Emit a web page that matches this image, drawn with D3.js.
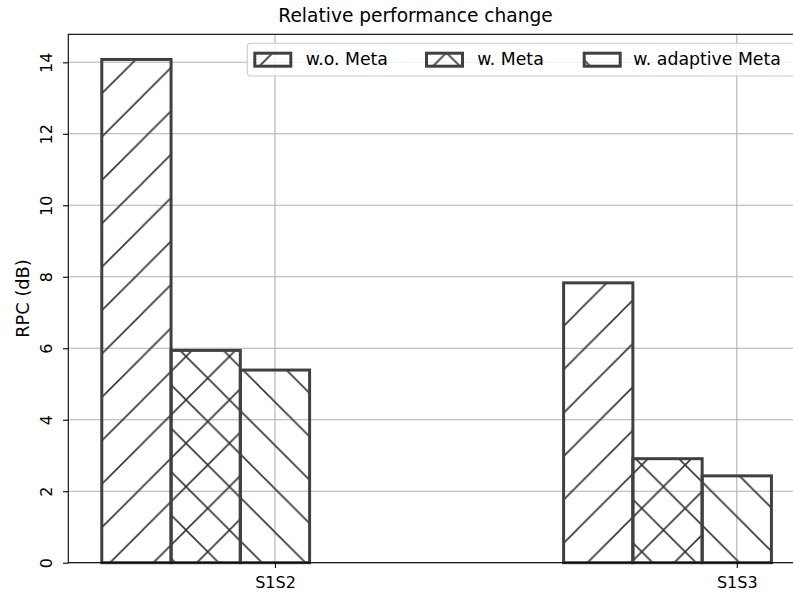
<!DOCTYPE html>
<html>
<head>
<meta charset="utf-8">
<script src="https://cdn.jsdelivr.net/npm/d3@7"></script>
<style>
  html, body { margin: 0; padding: 0; background: #fff; }
  svg { display: block; font-family: "DejaVu Sans", sans-serif; }
</style>
</head>
<body>
<svg id="chart" width="793" height="594"></svg>
<script>
// Relative performance change per source pair
const categories = ["S1S2", "S1S3"];
const seriesNames = ["w.o. Meta", "w. Meta", "w. adaptive Meta"];
const woMeta = [14.08, 7.83];
const wMeta = [5.94, 2.91];
const wAdaptiveMeta = [5.39, 2.43];
const yTicks = [0, 2, 4, 6, 8, 10, 12, 14];
const hatches = ["/", "x", "\\"];

const seriesValues = [woMeta, wMeta, wAdaptiveMeta];

(function draw() {
  const svg = d3.select("#chart");
  const ink = "#404040";

  // plot frame
  const plotL = 68.3, plotT = 34.3, plotB = 562.7, plotR = 804.9;
  const barW = 0.15;
  // bars sit at i - 2w, i - w, i ; ticks on the last bar of each group
  const xMin = -2.5 * barW, xMax = 1 + 0.5 * barW;
  const xPad = 0.05 * (xMax - xMin);
  const x = d3.scaleLinear().domain([xMin - xPad, xMax + xPad]).range([plotL, plotR]);
  const yMax = d3.max(seriesValues.flat()) * 1.05;
  const y = d3.scaleLinear().domain([0, yMax]).range([plotB, plotT]);

  // hatch tiles anchored to the page so lines run continuously across bars
  const P = 43.4, ox = 12.45, oy = 9.25;
  const defs = svg.append("defs");
  function hatchPattern(id, kind) {
    const p = defs.append("pattern").attr("id", id)
      .attr("patternUnits", "userSpaceOnUse")
      .attr("x", ox).attr("y", oy).attr("width", P).attr("height", P);
    const segs = [];
    if (kind === "/" || kind === "x") {
      segs.push([0, P, P, 0], [-2, 2, 2, -2], [P - 2, P + 2, P + 2, P - 2]);
    }
    if (kind === "\\" || kind === "x") {
      segs.push([0, 0, P, P], [P - 2, -2, P + 2, 2], [-2, P - 2, 2, P + 2]);
    }
    segs.forEach(s => p.append("line")
      .attr("x1", s[0]).attr("y1", s[1]).attr("x2", s[2]).attr("y2", s[3])
      .attr("stroke", "#333").attr("stroke-width", 1.6));
  }
  hatches.forEach((h, s) => hatchPattern("h" + s, h));

  // grid
  const grid = svg.append("g").attr("stroke", "#b0b0b0").attr("stroke-width", 1.1);
  yTicks.forEach(t => grid.append("line")
    .attr("x1", plotL).attr("x2", plotR).attr("y1", y(t)).attr("y2", y(t)));
  categories.forEach((c, i) => grid.append("line")
    .attr("x1", x(i)).attr("x2", x(i)).attr("y1", plotT).attr("y2", plotB));

  // bars
  seriesValues.forEach((vals, s) => {
    const off = (s - 2) * barW;
    svg.append("g").selectAll("rect").data(vals).join("rect")
      .attr("x", (d, i) => x(i + off - barW / 2))
      .attr("width", (d, i) => x(i + off + barW / 2) - x(i + off - barW / 2))
      .attr("y", d => y(d))
      .attr("height", d => y(0) - y(d))
      .attr("fill", `url(#h${s})`)
      .attr("stroke", ink)
      .attr("stroke-width", 3);
  });

  // axes
  const yAxis = svg.append("g").attr("transform", `translate(${plotL},0)`)
    .call(d3.axisLeft(y).tickValues(yTicks).tickFormat(d3.format("d")).tickSize(5.3).tickPadding(0));
  yAxis.select(".domain").remove();
  yAxis.selectAll(".tick line").attr("stroke", "#000").attr("stroke-width", 1.1);
  yAxis.selectAll(".tick text")
    .attr("x", null).attr("dy", null)
    .attr("transform", "translate(-16.3,0) rotate(-90)")
    .attr("text-anchor", "middle")
    .attr("font-size", 16).attr("font-family", "DejaVu Sans").attr("fill", "#000");

  const xAxis = svg.append("g").attr("transform", `translate(0,${plotB})`)
    .call(d3.axisBottom(x).tickValues([0, 1]).tickFormat(i => categories[i]).tickSize(5.3).tickPadding(0));
  xAxis.select(".domain").remove();
  xAxis.selectAll(".tick line").attr("stroke", "#000").attr("stroke-width", 1.1);
  xAxis.selectAll(".tick text")
    .attr("y", 25.5).attr("dy", null)
    .attr("font-size", 16).attr("font-family", "DejaVu Sans").attr("fill", "#000");

  // spines
  svg.append("rect").attr("x", plotL).attr("y", plotT)
    .attr("width", plotR - plotL).attr("height", plotB - plotT)
    .attr("fill", "none").attr("stroke", "#000").attr("stroke-width", 1.1);

  // title and axis label
  svg.append("text").attr("x", 415.5).attr("y", 22).attr("text-anchor", "middle")
    .attr("font-size", 18.6).attr("fill", "#000").text("Relative performance change");
  svg.append("text").attr("transform", `translate(29,${(plotT + plotB) / 2}) rotate(-90)`)
    .attr("text-anchor", "middle").attr("font-size", 17.8).attr("fill", "#000").text("RPC (dB)");

  // legend
  const legend = svg.append("g");
  const legL = 247.3, legT = 43.3, legB = 76, legR = plotR - 8.6;
  legend.append("rect").attr("x", legL).attr("y", legT)
    .attr("width", legR - legL).attr("height", legB - legT)
    .attr("rx", 3.5).attr("ry", 3.5)
    .attr("fill", "#fff").attr("fill-opacity", 0.8)
    .attr("stroke", "#cccccc").attr("stroke-width", 1.1);
  const handleX = [254.8, 426.5, 584.2];
  const textX = [305.7, 477.3, 633.3];
  seriesNames.forEach((name, s) => {
    legend.append("rect").attr("x", handleX[s]).attr("y", 53.2)
      .attr("width", 36).attr("height", 13)
      .attr("fill", `url(#h${s})`).attr("stroke", ink).attr("stroke-width", 3);
    legend.append("text").attr("x", textX[s]).attr("y", 65.3)
      .attr("font-size", 17.3).attr("fill", "#000").text(name);
  });
})();
</script>
</body>
</html>
